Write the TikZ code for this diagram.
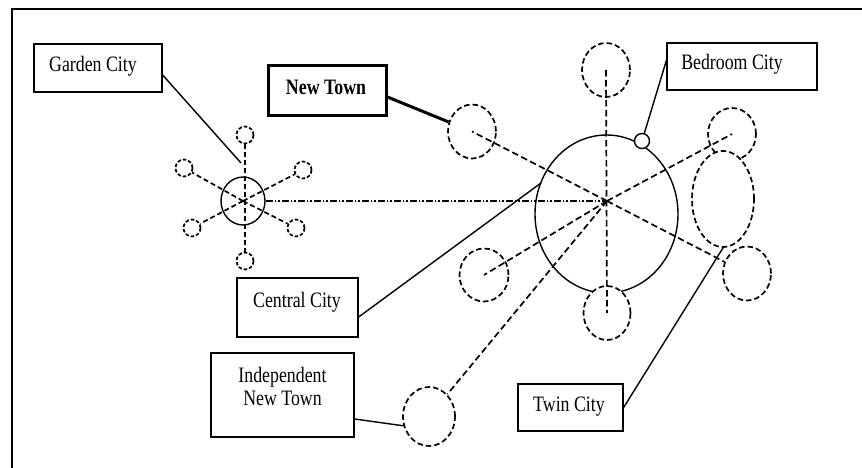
\documentclass[tikz,border=0pt]{standalone}
\usepackage{fontspec}
\setmainfont[FakeStretch=0.81]{Liberation Serif}
\usetikzlibrary{shapes.geometric}
\begin{document}
\begin{tikzpicture}[x=1pt,y=-1pt,
  box/.style={draw, line width=1.3pt, rectangle, inner sep=0pt},
  lbl/.style={inner sep=0pt, font=\fontsize{22}{23.5}\selectfont},
  ring/.style={draw, ellipse, inner sep=0pt, line width=1.7pt, dash pattern=on 5.5pt off 3pt, fill=white},
  sring/.style={draw, ellipse, inner sep=0pt, line width=1.7pt, dash pattern=on 3.5pt off 2pt, fill=white, minimum width=17pt, minimum height=17pt},
  spoke/.style={line width=1.7pt, dash pattern=on 6.5pt off 3.5pt},
  gspoke/.style={line width=1.7pt, dash pattern=on 5pt off 3pt},
  conn/.style={line width=1.4pt},
  dashdotdot/.style={line width=1.4pt, dash pattern=on 7pt off 2pt on 1.5pt off 2pt on 1.5pt off 2pt}
]
\useasboundingbox (0,0) rectangle (862,468);
% frame
\coordinate (f1) at (12,468);
\coordinate (f2) at (12,9);
\coordinate (f3) at (862,9);
\draw[line width=1.3pt] (f1) -- (f2) -- (f3);

% boxes and labels
\node[box, minimum width=128pt, minimum height=48pt] (gcbox) at (98,68) {};
\node[lbl, anchor=base] (gct) at (93,72) {Garden City};
\node[box, line width=3pt, minimum width=118pt, minimum height=50pt] (ntbox) at (327,91) {};
\node[lbl, anchor=base, font=\fontsize{22}{23.5}\selectfont\bfseries] (ntt) at (326,95) {New Town};
\node[box, minimum width=150pt, minimum height=47pt] (bcbox) at (742,66.5) {};
\node[lbl, anchor=base] (bct) at (732,70) {Bedroom City};
\node[box, minimum width=121pt, minimum height=59pt] (ccbox) at (297.5,307.5) {};
\node[lbl, anchor=base] (cct) at (297,307) {Central City};
\node[box, minimum width=143pt, minimum height=84pt] (inbox) at (282.5,395) {};
\node[lbl, align=center] (int) at (282.5,386.5) {Independent\\New Town};
\node[box, minimum width=105pt, minimum height=47pt] (tcbox) at (570.5,407.5) {};
\node[lbl, anchor=base] (tct) at (569,411) {Twin City};

% garden city cluster
\node[draw, ellipse, inner sep=0pt, line width=1.4pt, minimum width=44pt, minimum height=48pt] (gh) at (243,201) {};
\node[sring] (gt) at (245,135) {};
\node[sring] (gb) at (245,261) {};
\node[sring] (gul) at (184,168) {};
\node[sring] (gur) at (303,170) {};
\node[sring] (gll) at (192,228) {};
\node[sring] (glr) at (296,228) {};
\draw[gspoke] (gt) -- (gb);
\draw[gspoke] (gh.center) -- (gul);
\draw[gspoke] (gh.center) -- (gur);
\draw[gspoke] (gh.center) -- (gll);
\draw[gspoke] (gh.center) -- (glr);

% central city cluster
\node[draw, ellipse, inner sep=0pt, line width=1.4pt, minimum width=143pt, minimum height=158pt] (cc) at (606.5,214) {};
\coordinate (hub) at (607,201);
\node[ring, minimum width=48pt, minimum height=54pt] (tp) at (606,70) {};
\node[ring, minimum width=48pt, minimum height=54pt] (nt) at (472,131.5) {};
\node[ring, minimum width=48pt, minimum height=52pt] (ur) at (732,134) {};
\node[ring, minimum width=62pt, minimum height=96pt] (tw) at (723,199) {};
\node[ring, minimum width=48pt, minimum height=54pt] (lr) at (747,273.5) {};
\node[ring, minimum width=47pt, minimum height=54pt] (bt) at (607,313) {};
\node[ring, minimum width=49pt, minimum height=53pt] (ll) at (484,275) {};
\node[ring, minimum width=52pt, minimum height=59pt] (ic) at (429,416.5) {};
\node[draw, ellipse, inner sep=0pt, line width=1.4pt, fill=white, minimum width=15pt, minimum height=15pt] (bed) at (642,141) {};

\draw[spoke] (tp.center) -- (bt.center);
\draw[spoke] (hub) -- (nt.center);
\draw[spoke] (hub) -- (ur.center);
\draw[spoke] (hub) -- (ll.center);
\draw[spoke] (hub) -- (lr);
\draw[spoke] (hub) -- (ic);
\draw[dashdotdot] (gh.east) -- (hub);

% connectors
\coordinate (gcend) at (241,163);
\coordinate (ccend) at (541,183);
\draw[conn] ([yshift=-7pt]gcbox.east) -- (gcend);
\draw[line width=3pt] ([yshift=-6pt]ntbox.east) -- (nt);
\draw[conn] (bed) -- ([yshift=6pt]bcbox.west);
\draw[conn] ([yshift=-9.5pt]ccbox.east) -- (ccend);
\draw[conn] ([yshift=-24pt]inbox.east) -- (ic.200);
\draw[conn] (tcbox.east) -- (tw.south);
\end{tikzpicture}
\end{document}
